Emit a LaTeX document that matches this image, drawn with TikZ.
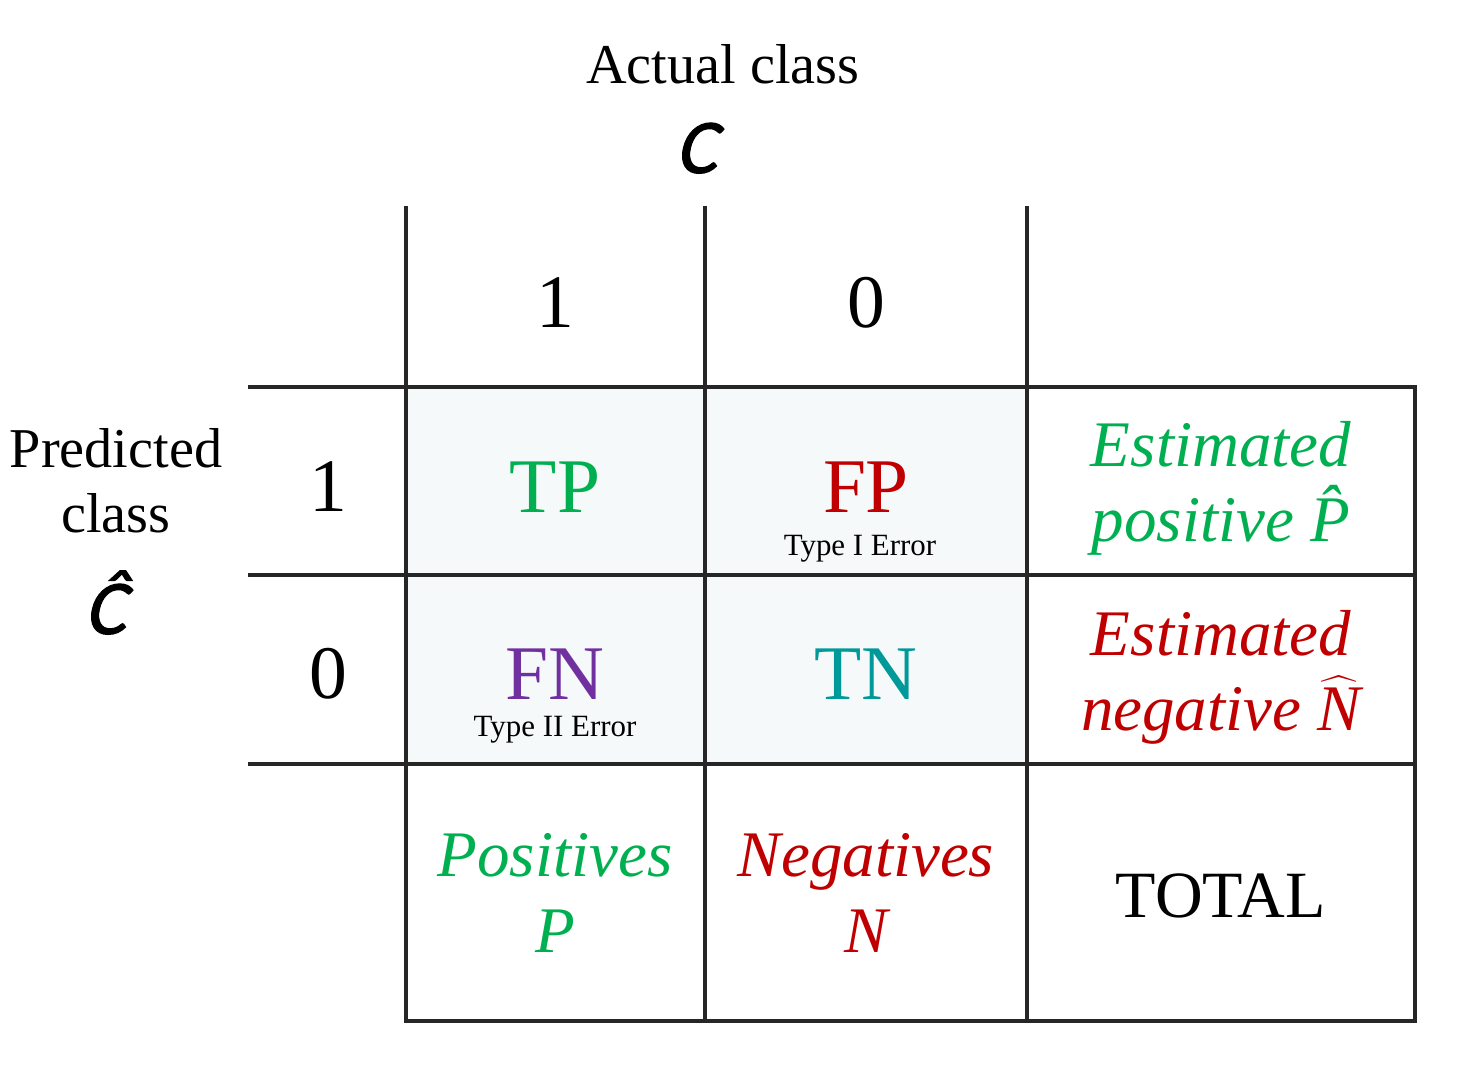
\documentclass[tikz,border=0pt]{standalone}
\usepackage{fontspec}
\setmainfont{Liberation Serif}
\newfontfamily\calfont{Carlito}[FakeSlant=0.22,FakeBold=1.3]
\definecolor{posgreen}{RGB}{0,176,80}
\definecolor{negred}{RGB}{192,0,0}
\definecolor{fnpurple}{RGB}{112,48,160}
\definecolor{tnteal}{RGB}{0,153,153}
\definecolor{cellbg}{RGB}{245,249,250}
\begin{document}
\begin{tikzpicture}[x=1cm,y=-1cm]
     % Styles
\tikzset{rule/.style={line width=1.1pt,color=black!85,line cap=rect},
  axistext/.style={inner sep=0pt,align=center,font=\fontsize{16}{18.5}\selectfont},
  classsym/.style={inner sep=0pt,font=\calfont\fontsize{22}{26}\selectfont},
  digit/.style={inner sep=0pt,font=\fontsize{21.5}{25}\selectfont},
  cellname/.style={inner sep=0pt,font=\fontsize{22}{26}\selectfont},
  errnote/.style={inner sep=0pt,font=\fontsize{8.8}{10}\selectfont},
  sumtext/.style={inner sep=0pt,align=center,font=\itshape\fontsize{18.5}{21.4}\selectfont},
  totaltext/.style={inner sep=0pt,font=\fontsize{18.8}{22}\selectfont}}
\useasboundingbox (0,0) rectangle (14.74,10.66);
% Shade the outcome cells
\fill[cellbg] (4.06,3.87) rectangle (10.27,7.64);
% Draw the table lines
\foreach \x in {4.06,7.05,10.27} {     % columns
\draw[rule] (\x,2.08) -- (\x,10.21);
}
\draw[rule] (14.15,3.87) -- (14.15,10.21);
\foreach \y in {3.87,5.75,7.64} {   %% rows
\draw[rule] (2.50,\y) -- (14.15,\y);
}
\draw[rule] (4.06,10.21) -- (14.15,10.21);
% the headings
\node[axistext,anchor=base] (actual) at (7.23,0.84) {Actual class};
\node[classsym,anchor=base] (actualsym) at (6.96,1.73) {C};
\node[axistext] (predicted) at (1.16,4.81) {Predicted\\class};
\node[classsym,anchor=base] (predictedsym) at (1.05,6.34) {\^{C}};
% the class values
\foreach \v/\x in {1/5.55,0/8.66} { \node[digit,anchor=base] (col\v) at (\x,3.28) {\v}; }
\foreach \v/\y in {1/5.12,0/6.99} { \node[digit,anchor=base] (row\v) at (3.28,\y) {\v}; }
% the four outcomes
\node[cellname,anchor=base,posgreen] (tp) at (5.55,5.13) {TP};
\node[cellname,anchor=base,negred] (fp) at (8.66,5.13) {FP};
\node[errnote,anchor=base] (fpnote) at (8.60,5.56) {Type I Error};
\node[cellname,anchor=base,fnpurple] (fn) at (5.55,7.00) {FN};
\node[errnote,anchor=base] (fnnote) at (5.55,7.37) {Type II Error};
\node[cellname,anchor=base,tnteal] (tn) at (8.66,7.00) {TN};
% the sums
\node[sumtext,posgreen] (estpos) at (12.21,4.88) {Estimated\\positive \^{P}};
\node[sumtext,negred] (estneg) at (12.21,6.77) {Estimated\\negative $\widehat{\textit{N}}$};
\node[sumtext,posgreen] (positives) at (5.55,8.93) {Positives\\P};
\node[sumtext,negred] (negatives) at (8.66,8.93) {Negatives\\N};
\node[totaltext,anchor=base] (total) at (12.21,9.18) {TOTAL};
\end{tikzpicture}
\end{document}
